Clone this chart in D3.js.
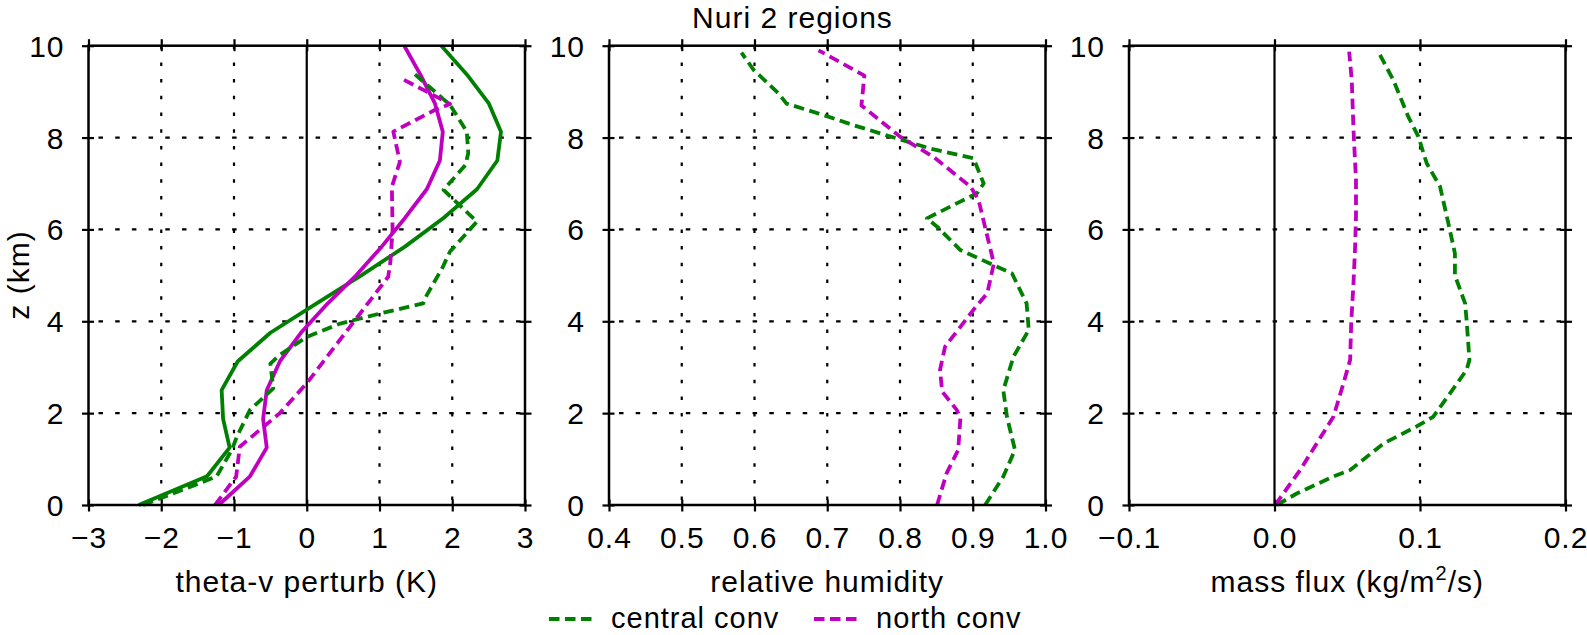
<!DOCTYPE html>
<html>
<head>
<meta charset="utf-8">
<script src="https://cdn.jsdelivr.net/npm/d3@7"></script>
<style>
  body { margin: 0; background: #fff; }
  svg text { font-family: "Liberation Sans", Arial, sans-serif; fill: #000; letter-spacing: 1px; }
</style>
</head>
<body>
<svg id="chart" width="1587" height="635"></svg>
<script>
// TICKS
let zTicks = [0, 2, 4, 6, 8, 10]
let thetaTicks = [-3, -2, -1, 0, 1, 2, 3]
let rhTicks = [0.4, 0.5, 0.6, 0.7, 0.8, 0.9, 1.0]
let fluxTicks = [-0.1, 0.0, 0.1, 0.2]

// THETA-V PERTURB (K), SOLID LINES ON REGULAR LEVELS
let zLevels = [0, 0.625, 1.25, 1.875, 2.5, 3.125, 3.75, 4.375, 5, 5.625, 6.25, 6.875, 7.5, 8.125, 8.75, 9.375, 10]
let thetaCentralSolid = [-2.31, -1.37, -1.06, -1.15, -1.17, -0.95, -0.5, 0.12, 0.75, 1.35, 1.88, 2.34, 2.62, 2.67, 2.5, 2.2, 1.85]
let thetaNorthSolid = [-1.21, -0.78, -0.55, -0.6, -0.55, -0.37, -0.08, 0.28, 0.68, 1.03, 1.35, 1.65, 1.83, 1.87, 1.76, 1.56, 1.34]

// THETA-V PERTURB (K), DASHED [value, z]
let thetaCentralConv = [[-2.25, 0], [-1.24, 0.62], [-1.03, 1.2], [-0.96, 1.49], [-0.78, 2.07], [-0.46, 2.54], [-0.5, 3.08],
    [-0.37, 3.27], [0, 3.66], [0.46, 3.95], [1.01, 4.17], [1.6, 4.39], [1.65, 4.57], [1.86, 5.15], [1.97, 5.52],
    [2.34, 6.17], [1.88, 6.86], [2.18, 7.4], [2.22, 7.66], [2.2, 8.13], [1.97, 8.71], [1.79, 8.96], [1.47, 9.4]]
let thetaNorthConv = [[-1.26, 0], [-0.97, 0.62], [-0.92, 1.27], [-0.37, 2.0], [0, 2.65], [1.12, 4.97], [1.15, 5.3],
    [1.18, 6.0], [1.17, 6.93], [1.28, 7.47], [1.19, 8.13], [1.76, 8.6], [1.97, 8.73], [1.65, 9.0], [1.32, 9.27]]

// RELATIVE HUMIDITY [value, z]
let rhCentralConv = [[0.917, 0], [0.942, 0.62], [0.958, 1.2], [0.947, 1.92], [0.942, 2.5], [0.956, 3.23], [0.977, 3.81],
    [0.974, 4.39], [0.954, 5.04], [0.929, 5.22], [0.883, 5.55], [0.851, 6.06], [0.837, 6.24], [0.906, 6.79], [0.915, 7.0],
    [0.901, 7.55], [0.842, 7.76], [0.80, 7.96], [0.736, 8.27], [0.695, 8.49], [0.644, 8.74], [0.633, 8.96], [0.599, 9.47], [0.582, 9.85]]
let rhNorthConv = [[0.851, 0], [0.864, 0.69], [0.88, 1.2], [0.883, 1.89], [0.878, 2.07], [0.858, 2.47], [0.855, 2.94],
    [0.862, 3.45], [0.883, 3.88], [0.901, 4.25], [0.92, 4.61], [0.929, 5.26], [0.908, 6.64], [0.897, 6.93], [0.846, 7.58],
    [0.80, 8.02], [0.747, 8.7], [0.751, 9.35], [0.688, 9.9]]

// MASS FLUX (kg/m2/s) [value, z]
let fluxCentralConv = [[0.0016, 0], [0.0153, 0.25], [0.0405, 0.62], [0.052, 0.76], [0.0749, 1.34], [0.0977, 1.71], [0.109, 1.92],
    [0.1206, 2.43], [0.132, 2.94], [0.134, 3.16], [0.132, 4.03], [0.131, 4.39], [0.124, 5.0], [0.124, 5.48], [0.1195, 6.13],
    [0.1138, 6.93], [0.1046, 7.44], [0.0989, 8.02], [0.092, 8.45], [0.0817, 9.25], [0.072, 9.83]]
let fluxNorthConv = [[0.0005, 0], [0.0176, 0.76], [0.029, 1.34], [0.0405, 1.92], [0.0474, 2.65], [0.052, 3.16], [0.0527, 3.95],
    [0.0543, 4.83], [0.0554, 5.62], [0.056, 6.28], [0.056, 7.08], [0.0543, 8.16], [0.0531, 9.25], [0.0513, 9.87]]

let green = '#008000'
let magenta = '#c000c0'

let svg = d3.select('#chart')

let top_y = 45.7
let bottom_y = 505
let panelWidth = 436.5

let y = d3.scaleLinear().domain([0, 10]).range([bottom_y, top_y])

let panels = [
    {left: 88.5, domain: [-3, 3], ticks: thetaTicks, fmt: d3.format('d'), zero: true, label: 'theta-v perturb (K)',
        series: [
            {data: zLevels.map((z, i) => [thetaCentralSolid[i], z]), color: green, dash: null},
            {data: zLevels.map((z, i) => [thetaNorthSolid[i], z]), color: magenta, dash: null},
            {data: thetaCentralConv, color: green, dash: '10.5,5.5'},
            {data: thetaNorthConv, color: magenta, dash: '10.5,5.5'}
        ]},
    {left: 609, domain: [0.4, 1.0], ticks: rhTicks, fmt: d3.format('.1f'), zero: false, label: 'relative humidity',
        series: [
            {data: rhCentralConv, color: green, dash: '10.5,5.5'},
            {data: rhNorthConv, color: magenta, dash: '10.5,5.5'}
        ]},
    {left: 1129, domain: [-0.1, 0.2], ticks: fluxTicks, fmt: d3.format('.1f'), zero: true, label: null,
        series: [
            {data: fluxCentralConv, color: green, dash: '10.5,5.5'},
            {data: fluxNorthConv, color: magenta, dash: '10.5,5.5'}
        ]}
]

panels.forEach(function(p){

    let x = d3.scaleLinear().domain(p.domain).range([p.left, p.left + panelWidth])
    let g = svg.append('g')

    // GRID
    p.ticks.forEach(function(t){
        if (Math.abs(t - p.domain[0]) < 1e-9 || Math.abs(t - p.domain[1]) < 1e-9) return
        let isZero = Math.abs(t) < 1e-9 && p.zero
        g.append('line')
            .attr('x1', x(t)).attr('x2', x(t))
            .attr('y1', top_y).attr('y2', bottom_y)
            .attr('stroke', '#000')
            .attr('stroke-width', 2.2)
            .attr('stroke-dasharray', isZero ? null : '3.5,13.2')
    })
    zTicks.slice(1, -1).forEach(function(t){
        g.append('line')
            .attr('x1', p.left).attr('x2', p.left + panelWidth)
            .attr('y1', y(t)).attr('y2', y(t))
            .attr('stroke', '#000')
            .attr('stroke-width', 2.2)
            .attr('stroke-dasharray', '4.5,12.2')
            .attr('stroke-dashoffset', -10)
    })

    // LINES
    let line = d3.line().x(d => x(d[0])).y(d => y(d[1]))
    p.series.forEach(function(s){
        g.append('path')
            .datum(s.data)
            .attr('d', line)
            .attr('fill', 'none')
            .attr('stroke', s.color)
            .attr('stroke-width', 3.8)
            .attr('stroke-linejoin', 'round')
            .attr('stroke-dasharray', s.dash)
    })

    // BOX
    g.append('rect')
        .attr('x', p.left).attr('y', top_y)
        .attr('width', panelWidth).attr('height', bottom_y - top_y)
        .attr('fill', 'none')
        .attr('stroke', '#000')
        .attr('stroke-width', 2.5)

    // X-AXIS TICKS (BOTTOM, WITH LABELS)
    let xb = g.append('g')
        .attr('transform', `translate(0, ${bottom_y})`)
        .call(d3.axisBottom(x).tickValues(p.ticks).tickFormat(p.fmt).tickSize(6.5))
    xb.selectAll('text').attr('y', 43).attr('dy', 0).attr('font-size', 30)
    g.append('g')
        .attr('transform', `translate(0, ${bottom_y})`)
        .call(d3.axisBottom(x).tickValues(p.ticks).tickFormat('').tickSize(-5.5))

    // X-AXIS TICKS (TOP)
    g.append('g')
        .attr('transform', `translate(0, ${top_y})`)
        .call(d3.axisTop(x).tickValues(p.ticks).tickFormat('').tickSize(6.5))
    g.append('g')
        .attr('transform', `translate(0, ${top_y})`)
        .call(d3.axisTop(x).tickValues(p.ticks).tickFormat('').tickSize(-5.5))

    // Y-AXIS TICKS (LEFT, WITH LABELS)
    let yl = g.append('g')
        .attr('transform', `translate(${p.left}, 0)`)
        .call(d3.axisLeft(y).tickValues(zTicks).tickFormat(d3.format('d')).tickSize(6.5))
    yl.selectAll('text').attr('x', -24).attr('dy', '0.35em').attr('font-size', 30)
    g.append('g')
        .attr('transform', `translate(${p.left}, 0)`)
        .call(d3.axisLeft(y).tickValues(zTicks).tickFormat('').tickSize(-5.5))

    // Y-AXIS TICKS (RIGHT)
    g.append('g')
        .attr('transform', `translate(${p.left + panelWidth}, 0)`)
        .call(d3.axisRight(y).tickValues(zTicks).tickFormat('').tickSize(6.5))
    g.append('g')
        .attr('transform', `translate(${p.left + panelWidth}, 0)`)
        .call(d3.axisRight(y).tickValues(zTicks).tickFormat('').tickSize(-5.5))

    g.selectAll('.domain').remove()
    g.selectAll('.tick line').attr('stroke', '#000').attr('stroke-width', 2.2)
    g.selectAll('.tick text').attr('font-family', null).attr('fill', '#000')

    // X AXIS LABELS
    let cx = p.left + panelWidth / 2
    if (p.label) {
        svg.append('text')
            .attr('x', cx).attr('y', 592)
            .attr('text-anchor', 'middle')
            .attr('font-size', 30)
            .text(p.label)
    } else {
        let t = svg.append('text')
            .attr('x', cx).attr('y', 592)
            .attr('text-anchor', 'middle')
            .attr('font-size', 30)
        t.append('tspan').text('mass flux (kg/m')
        t.append('tspan').attr('font-size', 20).attr('dy', -12).text('2')
        t.append('tspan').attr('dy', 12).text('/s)')
    }
})

// Y AXIS LABEL
svg.append('text')
    .attr('transform', 'translate(29, 275) rotate(-90)')
    .attr('text-anchor', 'middle')
    .attr('font-size', 30)
    .text('z (km)')

// GRAPH TITLE
svg.append('text')
    .attr('x', 792.5).attr('y', 27.5)
    .attr('text-anchor', 'middle')
    .attr('font-size', 30)
    .text('Nuri 2 regions')

// LEGEND
let legendItems = [
    {label: 'central conv', color: green, x: 549},
    {label: 'north conv', color: magenta, x: 814}
]
legendItems.forEach(function(item){
    svg.append('line')
        .attr('x1', item.x).attr('x2', item.x + 43)
        .attr('y1', 619).attr('y2', 619)
        .attr('stroke', item.color)
        .attr('stroke-width', 3.8)
        .attr('stroke-dasharray', '10.5,5.5')
    svg.append('text')
        .attr('x', item.x + 62).attr('y', 628)
        .attr('font-size', 29)
        .text(item.label)
})
</script>
</body>
</html>
